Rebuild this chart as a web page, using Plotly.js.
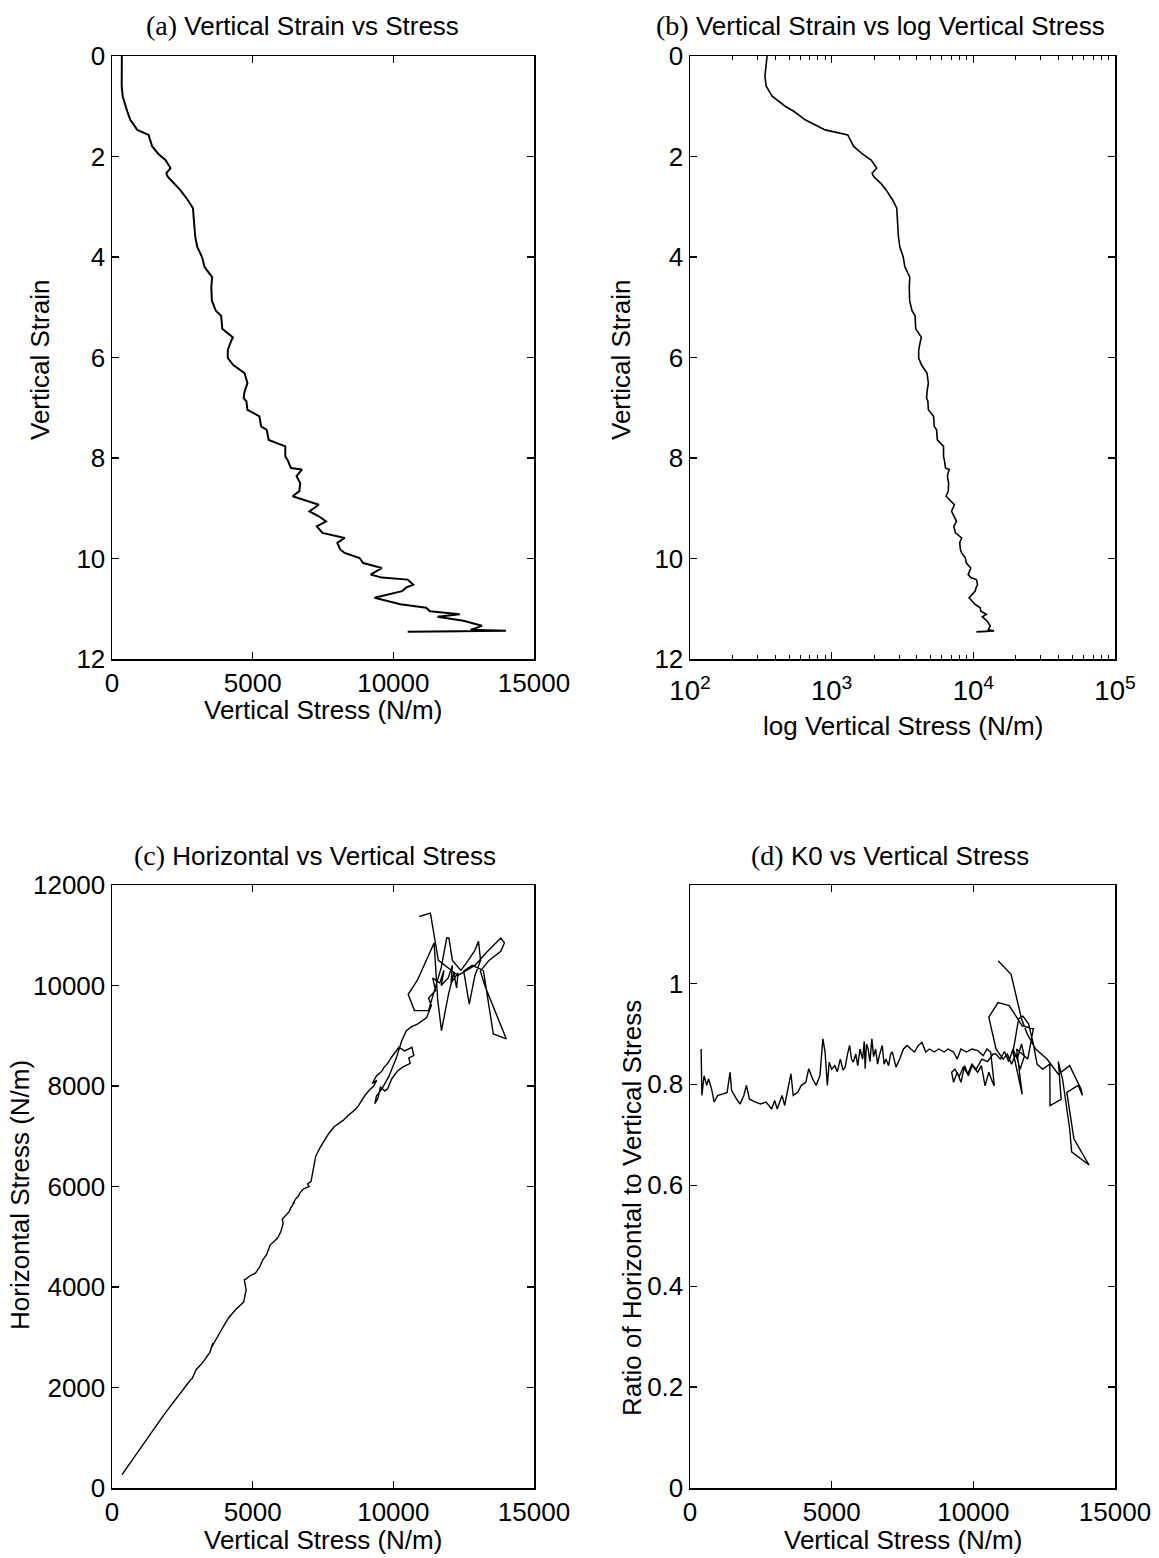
<!DOCTYPE html>
<html><head><meta charset="utf-8">
<script src="https://cdn.plot.ly/plotly-3.0.1.min.js"></script>
<style>body{margin:0;background:#fff}</style>
</head><body><div id="chart" style="width:1159px;height:1558px"></div>
<script>
// Panels (a) and (b): vertical strain vs vertical stress (N/m)
const strainAB = [0, 0.2, 0.4, 0.6, 0.8, 1.0, 1.1, 1.27, 1.4, 1.47, 1.57, 1.7, 1.8, 1.95, 2.07, 2.23, 2.33, 2.4, 2.55, 2.67, 2.87, 3.03, 3.2, 3.4, 3.6, 3.8, 4.0, 4.2, 4.4, 4.6, 4.87, 5.07, 5.17, 5.43, 5.6, 5.65, 5.85, 6.01, 6.15, 6.31, 6.51, 6.68, 6.81, 6.87, 7.04, 7.17, 7.37, 7.44, 7.64, 7.77, 7.97, 8.05, 8.2, 8.23, 8.36, 8.5, 8.66, 8.76, 8.93, 9.06, 9.16, 9.26, 9.36, 9.49, 9.59, 9.69, 9.82, 9.89, 9.99, 10.09, 10.19, 10.32, 10.38, 10.42, 10.52, 10.58, 10.65, 10.78, 10.91, 10.98, 11.05, 11.11, 11.16, 11.24, 11.34, 11.42, 11.44, 11.46, 11.45];
const stressAB = [350, 345, 338, 345, 380, 470, 540, 650, 800, 900, 1300, 1380, 1430, 1650, 1900, 2080, 1930, 1980, 2250, 2430, 2700, 2880, 2900, 2920, 2960, 3030, 3200, 3290, 3560, 3530, 3550, 3690, 3880, 3920, 4300, 4250, 4115, 4115, 4310, 4710, 4815, 4710, 4680, 4775, 4815, 5240, 5300, 5500, 5570, 6160, 6160, 6250, 6360, 6750, 6560, 6690, 6660, 6420, 7350, 7020, 7350, 7610, 7280, 7480, 8270, 8010, 8110, 8270, 8800, 8930, 9590, 9190, 9590, 10510, 10710, 10450, 10310, 9330, 10250, 11170, 11300, 12360, 11570, 12490, 13150, 12750, 14000, 10510, 12490];

// Panel (c): horizontal vs vertical stress (N/m)
const vStressC = [356, 620, 882, 1150, 1409, 1700, 1936, 2200, 2463, 2650, 2792, 2850, 2990, 3200, 3385, 3480, 3582, 3540, 3700, 3912, 4050, 4175, 4250, 4130, 4400, 4570, 4680, 4768, 4700, 4728, 4900, 5097, 5250, 5360, 5500, 5624, 5750, 5887, 6000, 6085, 6050, 6150, 6300, 6348, 6500, 6420, 6546, 6620, 6678, 6800, 7007, 6950, 7073, 7150, 7238, 7400, 7567, 7500, 7700, 7896, 8050, 8225, 8400, 8620, 8750, 8883, 8800, 9000, 9146, 9300, 9409, 9250, 9400, 9600, 9673, 9800, 9936, 10050, 10199, 10400, 10660, 10725, 10550, 10600, 10330, 10150, 9950, 9800, 9700, 9541, 9450, 9344, 9400, 9600, 9850, 10100, 10300, 10462, 10650, 10857, 11050, 11186, 11350, 11250, 11500, 11400, 11650, 11800, 11700, 11950, 12100, 12050, 12300, 12250, 12150, 11950, 11712, 11580, 11449, 11100, 10850, 10528, 10750, 11250, 11700, 11900, 11975, 12100, 12400, 12600, 12900, 13028, 13100, 12900, 12699, 12502, 12800, 13200, 13357, 13554, 14015, 13489, 13250, 13094, 13400, 13818, 13949, 13818, 13300, 12900, 12300, 11600, 11318, 10923];
const hStressC = [265, 480, 696, 910, 1127, 1340, 1525, 1720, 1923, 2060, 2155, 2180, 2354, 2480, 2619, 2700, 2884, 2800, 2960, 3150, 3300, 3415, 3450, 3380, 3550, 3647, 3700, 3945, 4150, 4144, 4220, 4276, 4400, 4542, 4650, 4840, 4900, 4973, 5100, 5271, 5350, 5404, 5500, 5569, 5700, 5650, 5768, 5800, 5868, 5950, 6000, 6050, 6099, 6300, 6596, 6780, 6926, 6850, 7050, 7189, 7250, 7321, 7420, 7519, 7600, 7716, 7650, 7820, 7914, 8000, 8112, 8050, 8200, 8300, 8376, 8450, 8573, 8650, 8771, 8700, 8771, 8606, 8560, 8450, 8376, 8300, 8150, 7950, 7900, 7980, 7750, 7650, 7800, 7950, 8200, 8550, 8900, 9100, 9180, 9232, 9300, 9364, 9600, 9750, 9900, 10150, 10050, 10300, 10000, 10150, 10400, 10050, 10250, 9950, 10250, 9800, 9100, 9700, 10847, 10400, 10100, 9825, 9500, 9500, 10350, 10950, 10946, 10500, 10300, 10450, 10700, 10880, 10500, 10200, 9628, 10287, 10400, 10300, 9760, 9035, 8936, 9661, 10000, 10287, 10500, 10682, 10847, 10946, 10650, 10400, 10200, 10500, 11440, 11374];

// Panel (d): K0 (ratio of horizontal to vertical stress) vs vertical stress (N/m)
const vStressD = [393, 419, 498, 590, 655, 760, 852, 983, 1179, 1310, 1415, 1467, 1638, 1769, 1900, 1991, 2096, 2293, 2489, 2686, 2882, 2987, 3079, 3249, 3341, 3432, 3563, 3642, 3799, 3930, 4087, 4192, 4323, 4454, 4585, 4690, 4768, 4847, 4913, 5000, 5109, 5200, 5306, 5400, 5476, 5560, 5633, 5700, 5764, 5850, 5921, 6000, 6092, 6150, 6183, 6230, 6288, 6350, 6419, 6480, 6550, 6620, 6681, 6786, 6850, 6917, 7009, 7080, 7140, 7271, 7402, 7533, 7664, 7795, 7926, 8057, 8188, 8319, 8450, 8620, 8777, 8974, 9105, 9301, 9432, 9563, 9760, 9956, 10153, 10349, 10480, 10611, 10742, 10677, 10546, 10415, 10284, 10153, 9956, 9825, 9694, 9563, 9432, 9301, 9236, 9350, 9500, 9650, 9800, 9950, 10100, 10300, 10500, 10700, 10800, 10950, 11100, 11250, 11400, 11550, 11700, 11800, 11650, 11500, 11350, 11200, 11050, 10800, 10546, 10873, 11266, 11725, 12118, 11921, 11528, 11725, 11400, 11600, 11750, 11950, 12118, 12250, 12445, 12700, 12707, 13100, 13000, 13150, 13300, 13400, 13470, 14083, 13550, 13400, 13300, 13700, 13850, 13800, 13400, 13000, 12600, 12200, 11900, 11700, 11332, 10873];
const k0D = [0.87, 0.778, 0.817, 0.798, 0.811, 0.791, 0.765, 0.778, 0.781, 0.784, 0.824, 0.788, 0.771, 0.761, 0.778, 0.798, 0.771, 0.765, 0.761, 0.765, 0.751, 0.768, 0.751, 0.778, 0.758, 0.784, 0.821, 0.778, 0.784, 0.798, 0.804, 0.831, 0.811, 0.798, 0.817, 0.89, 0.864, 0.798, 0.844, 0.83, 0.837, 0.825, 0.85, 0.828, 0.834, 0.86, 0.877, 0.85, 0.844, 0.86, 0.837, 0.87, 0.85, 0.885, 0.831, 0.88, 0.87, 0.845, 0.89, 0.855, 0.87, 0.84, 0.857, 0.877, 0.84, 0.85, 0.837, 0.86, 0.864, 0.834, 0.85, 0.87, 0.877, 0.87, 0.864, 0.877, 0.883, 0.864, 0.87, 0.864, 0.87, 0.864, 0.87, 0.864, 0.85, 0.87, 0.864, 0.87, 0.867, 0.857, 0.87, 0.864, 0.797, 0.804, 0.824, 0.797, 0.837, 0.824, 0.837, 0.817, 0.837, 0.804, 0.824, 0.804, 0.824, 0.83, 0.815, 0.835, 0.82, 0.84, 0.83, 0.85, 0.845, 0.86, 0.86, 0.85, 0.865, 0.845, 0.87, 0.85, 0.88, 0.855, 0.83, 0.86, 0.84, 0.86, 0.85, 0.87, 0.933, 0.962, 0.956, 0.916, 0.91, 0.85, 0.87, 0.78, 0.864, 0.93, 0.935, 0.92, 0.88, 0.84, 0.83, 0.84, 0.758, 0.77, 0.845, 0.81, 0.745, 0.712, 0.666, 0.64, 0.692, 0.745, 0.784, 0.798, 0.778, 0.791, 0.837, 0.82, 0.85, 0.87, 0.9, 0.93, 1.018, 1.045];

const FONT = 'Liberation Sans, Arial, Helvetica, sans-serif';

function ax(extra) {
  return Object.assign({
    showline: true, mirror: 'ticks', linecolor: 'black', linewidth: 1.5,
    ticks: 'inside', ticklen: 7, tickwidth: 1.2, tickcolor: 'black',
    showgrid: false, zeroline: false, fixedrange: true,
    tickfont: {family: FONT, size: 26, color: 'black'}
  }, extra);
}

const LX = [112/1159, 534/1159], RX = [690/1159, 1115/1159];
const TY = [1 - 659/1558, 1 - 56/1558], BY = [1 - 1488/1558, 1 - 885/1558];
const line = w => ({color: 'black', width: w});

const traces = [
  {x: stressAB, y: strainAB, xaxis: 'x', yaxis: 'y', type: 'scatter', mode: 'lines', line: line(2), hoverinfo: 'skip'},
  {x: stressAB, y: strainAB, xaxis: 'x2', yaxis: 'y2', type: 'scatter', mode: 'lines', line: line(1.6), hoverinfo: 'skip'},
  {x: vStressC, y: hStressC, xaxis: 'x3', yaxis: 'y3', type: 'scatter', mode: 'lines', line: line(1.4), hoverinfo: 'skip'},
  {x: vStressD, y: k0D, xaxis: 'x4', yaxis: 'y4', type: 'scatter', mode: 'lines', line: line(1.4), hoverinfo: 'skip'}
];

function ann(text, xpx, ypx, size, rot) {
  return {text: text, xref: 'paper', yref: 'paper', x: xpx/1159, y: 1 - ypx/1558,
    xanchor: 'center', yanchor: 'middle', showarrow: false, textangle: rot || 0,
    font: {family: FONT, size: size, color: 'black'}};
}
const ser = t => '<span style="font-family:' + "'Liberation Serif', serif" + ';font-size:28px">' + t + '</span>';

const layout = {
  width: 1159, height: 1558, margin: {l: 0, r: 0, t: 0, b: 0},
  paper_bgcolor: 'white', plot_bgcolor: 'white', showlegend: false,
  xaxis: ax({domain: LX, anchor: 'y', range: [0, 15000], tickvals: [0, 5000, 10000, 15000], tickformat: 'd'}),
  yaxis: ax({domain: TY, anchor: 'x', range: [12, 0], tickvals: [0, 2, 4, 6, 8, 10, 12]}),
  xaxis2: ax({domain: RX, anchor: 'y2', type: 'log', range: [2, 5], dtick: 1, exponentformat: 'power',
    tickfont: {family: FONT, size: 22, color: 'black'}, ticklabelstandoff: 8,
    minor: {ticks: 'inside', ticklen: 4, tickwidth: 1, tickcolor: 'black', dtick: 'D1', showgrid: false}}),
  yaxis2: ax({domain: TY, anchor: 'x2', range: [12, 0], tickvals: [0, 2, 4, 6, 8, 10, 12]}),
  xaxis3: ax({domain: LX, anchor: 'y3', range: [0, 15000], tickvals: [0, 5000, 10000, 15000], tickformat: 'd'}),
  yaxis3: ax({domain: BY, anchor: 'x3', range: [0, 12000], tickvals: [0, 2000, 4000, 6000, 8000, 10000, 12000], tickformat: 'd'}),
  xaxis4: ax({domain: RX, anchor: 'y4', range: [0, 15000], tickvals: [0, 5000, 10000, 15000], tickformat: 'd'}),
  yaxis4: ax({domain: BY, anchor: 'x4', range: [0, 1.195], tickvals: [0, 0.2, 0.4, 0.6, 0.8, 1]}),
  annotations: [
    ann(ser('(a)') + ' Vertical Strain vs Stress', 302, 25, 26),
    ann(ser('(b)') + ' Vertical Strain vs log Vertical Stress', 880, 25, 26),
    ann(ser('(c)') + ' Horizontal vs Vertical Stress', 315, 855, 26),
    ann(ser('(d)') + ' K0 vs Vertical Stress', 890, 855, 26),
    ann('Vertical Stress (N/m)', 323, 710, 26),
    ann('log Vertical Stress (N/m)', 903, 726, 26),
    ann('Vertical Stress (N/m)', 323, 1540, 26),
    ann('Vertical Stress (N/m)', 903, 1540, 26),
    ann('Vertical Strain', 40, 360, 26, -90),
    ann('Vertical Strain', 621, 360, 26, -90),
    ann('Horizontal Stress (N/m)', 20, 1195, 26, -90),
    ann('Ratio of Horizontal to Vertical Stress', 632, 1208, 26, -90)
  ]
};

Plotly.newPlot('chart', traces, layout, {staticPlot: true, displayModeBar: false});
</script></body></html>
